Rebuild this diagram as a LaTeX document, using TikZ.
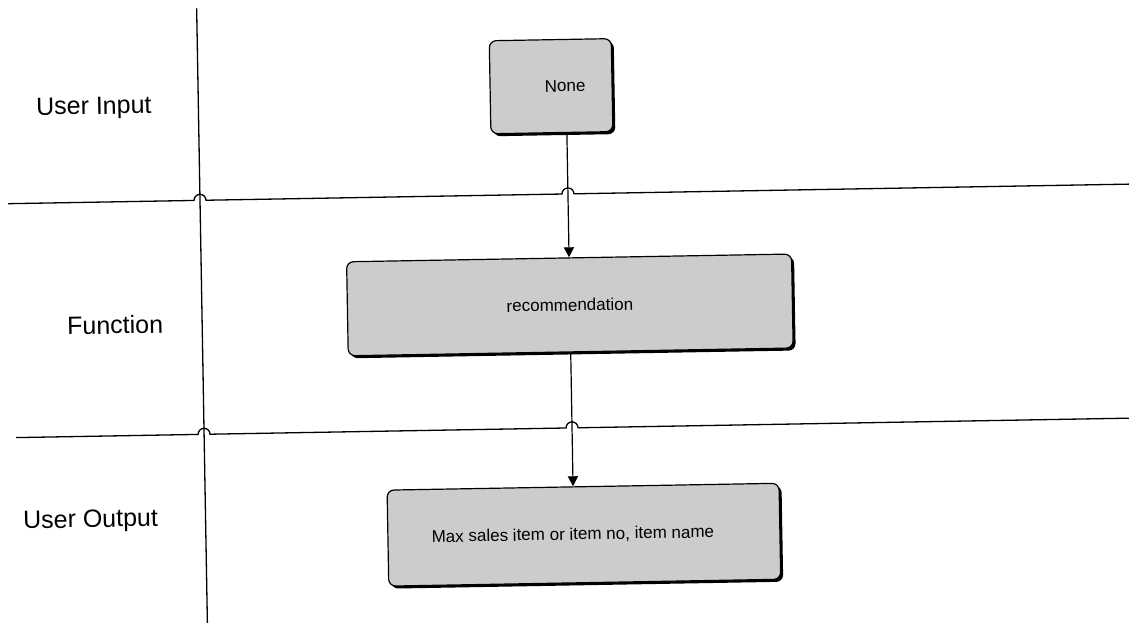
\documentclass[tikz,border=0pt]{standalone}
\usepackage{fontspec}
\setmainfont{Liberation Sans}
\usetikzlibrary{arrows.meta,shadows}
\begin{document}
\begin{tikzpicture}[x=1pt,y=-1pt,
  lane/.style={line width=1.3pt},
  lanelabel/.style={font=\fontsize{25}{30}\selectfont},
  procbox/.style={draw=black, line width=1.2pt, fill=black!20, rounded corners=7pt,
    inner sep=0pt, font=\fontsize{17}{20}\selectfont,
    drop shadow={shadow xshift=2.5pt, shadow yshift=-2.5pt, fill=black, opacity=1}},
  flow/.style={line width=1.2pt, -{Triangle[width=10pt,length=10pt]}}]
\useasboundingbox (0,0) rectangle (1129,623);
\fill[white] (0,0) rectangle (1129,623);
\begin{scope}[rotate around={1:(564.5,311.5)}, transform shape]
  % swimlane separators with line hops
  \draw[lane] (202,2) -- (202,640);
  \draw[lane] (10,194) -- (196,194) arc[start angle=180,end angle=0,radius=6pt]
    -- (564,194) arc[start angle=180,end angle=0,radius=6pt] -- (1140,194);
  \draw[lane] (14,428) -- (196,428) arc[start angle=180,end angle=0,radius=6pt]
    -- (564,428) arc[start angle=180,end angle=0,radius=6pt] -- (1140,428);

  % lane titles
  \node[lanelabel] (lin)  at (97.5,100) {User Input};
  \node[lanelabel] (lfn)  at (115,317)  {Function};
  \node[lanelabel] (lout) at (87,513)   {User Output};

  % process boxes
  \node[procbox, minimum width=122pt, minimum height=93pt] (none) at (555,86)
    {\hspace*{28pt}None};
  \node[procbox, minimum width=445pt, minimum height=94pt] (rec) at (570,305)
    {recommendation};
  \node[procbox, minimum width=392pt, minimum height=96pt] (out) at (580,535)
    {Max sales item or item no, item name\hspace*{22pt}};

  % flow
  \draw[flow] (none.south -| rec.north) -- (rec.north);
  \draw[flow] (rec.south) -- (rec.south |- out.north);
\end{scope}
\end{tikzpicture}
\end{document}
